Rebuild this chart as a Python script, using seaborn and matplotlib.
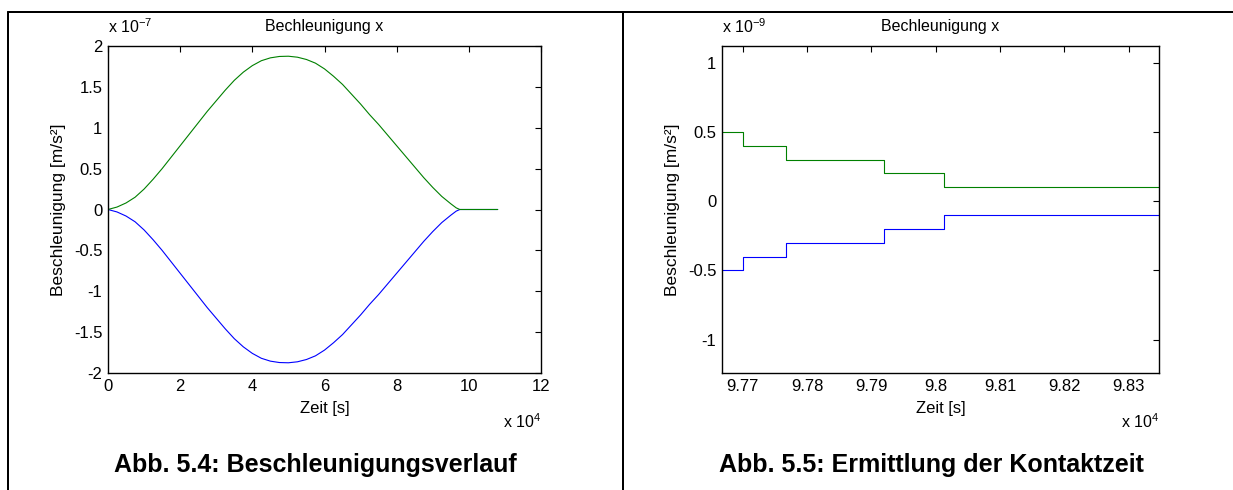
import numpy as np
import pandas as pd
import matplotlib
matplotlib.use("Agg")
import matplotlib.pyplot as plt
from matplotlib.lines import Line2D
from matplotlib.ticker import FuncFormatter
import seaborn as sns

# ---- data -------------------------------------------------------------
# Abb. 5.4: acceleration over time (time in s, acceleration in m/s^2)
zeit_verlauf = [0, 2500, 5000, 7500, 10000, 12500, 15000, 17500, 20000, 22500,
                25000, 27500, 30000, 32500, 35000, 37500, 40000, 42500, 45000,
                47500, 50000, 52500, 55000, 57500, 60000, 62500, 65000, 67500,
                70000, 72500, 75000, 77500, 80000, 82500, 85000, 87500, 90000,
                92500, 95000, 96500, 97500, 108000]
beschl_pos = [0.0, 0.03e-7, 0.08e-7, 0.15e-7, 0.25e-7, 0.37e-7, 0.50e-7, 0.64e-7,
              0.78e-7, 0.92e-7, 1.06e-7, 1.20e-7, 1.33e-7, 1.46e-7, 1.58e-7,
              1.68e-7, 1.76e-7, 1.82e-7, 1.855e-7, 1.872e-7, 1.875e-7, 1.863e-7,
              1.835e-7, 1.79e-7, 1.72e-7, 1.63e-7, 1.53e-7, 1.41e-7, 1.29e-7,
              1.16e-7, 1.04e-7, 0.91e-7, 0.78e-7, 0.65e-7, 0.52e-7, 0.39e-7,
              0.27e-7, 0.16e-7, 0.07e-7, 0.02e-7, 0.0, 0.0]
beschl_neg = [0.0, -0.03e-7, -0.08e-7, -0.15e-7, -0.25e-7, -0.37e-7, -0.50e-7,
              -0.64e-7, -0.78e-7, -0.92e-7, -1.06e-7, -1.20e-7, -1.33e-7,
              -1.46e-7, -1.58e-7, -1.68e-7, -1.76e-7, -1.82e-7, -1.855e-7,
              -1.872e-7, -1.875e-7, -1.863e-7, -1.835e-7, -1.79e-7, -1.72e-7,
              -1.63e-7, -1.53e-7, -1.41e-7, -1.29e-7, -1.16e-7, -1.04e-7,
              -0.91e-7, -0.78e-7, -0.65e-7, -0.52e-7, -0.39e-7, -0.27e-7,
              -0.16e-7, -0.07e-7, -0.02e-7, 0.0, 0.0]

# Abb. 5.5: zoomed step signal near contact
zeit_stufen = [97600, 97700, 97767, 97919, 98013, 98400]
stufen_pos = [0.5e-9, 0.4e-9, 0.3e-9, 0.2e-9, 0.1e-9, 0.1e-9]
stufen_neg = [-0.5e-9, -0.4e-9, -0.3e-9, -0.2e-9, -0.1e-9, -0.1e-9]

ticks_links_x = [0, 2, 4, 6, 8, 10, 12]
ticks_links_y = [-2, -1.5, -1, -0.5, 0, 0.5, 1, 1.5, 2]
ticks_rechts_x = [9.77, 9.78, 9.79, 9.8, 9.81, 9.82, 9.83]
ticks_rechts_y = [-1, -0.5, 0, 0.5, 1]

titel = "Bechleunigung x"
xlabel = "Zeit [s]"
ylabel = "Beschleunigung [m/s²]"
caption_links = "Abb. 5.4: Beschleunigungsverlauf"
caption_rechts = "Abb. 5.5: Ermittlung der Kontaktzeit"

GRUEN = "#008000"
BLAU = "#0000ff"

# ---- style ------------------------------------------------------------
sns.set_style("white")
plt.rcParams["font.family"] = ["Liberation Sans", "DejaVu Sans"]
plt.rcParams["axes.unicode_minus"] = False
plt.rcParams["mathtext.fontset"] = "custom"
plt.rcParams["mathtext.rm"] = "Liberation Sans"
plt.rcParams["mathtext.it"] = "Liberation Sans"
plt.rcParams["text.color"] = "black"
plt.rcParams["axes.labelcolor"] = "black"

W, H = 1233, 490
fig = plt.figure(figsize=(W / 100, H / 100), dpi=100)
fig.patch.set_facecolor("white")


def px_axes(x0, y0, x1, y1):
    return fig.add_axes([x0 / W, 1 - y1 / H, (x1 - x0) / W, (y1 - y0) / H])


def fmt(scale):
    return FuncFormatter(lambda v, p: f"{v / scale:g}")


def style_axes(ax, xscale, yscale, xticks, yticks, xexp, yexp):
    ax.set_xticks([t * xscale for t in xticks])
    ax.set_yticks([t * yscale for t in yticks])
    ax.xaxis.set_major_formatter(fmt(xscale))
    ax.yaxis.set_major_formatter(fmt(yscale))
    ax.tick_params(direction="in", length=4, width=0.8, top=True, right=True,
                   labelsize=12, colors="black", pad=4)
    for s in ax.spines.values():
        s.set_color("black")
        s.set_linewidth(1.0)
    ax.set_title(titel, fontsize=11.5, pad=11, color="black")
    ax.set_xlabel(xlabel, fontsize=12, labelpad=5, color="black")
    ax.set_ylabel(ylabel, fontsize=12.5, labelpad=6, color="black")
    ax.text(0.0, 1.03, r"x 10$^{" + yexp + "}$", transform=ax.transAxes,
            ha="left", va="bottom", fontsize=11.5)
    ax.text(1.0, -0.12, r"x 10$^{" + xexp + "}$", transform=ax.transAxes,
            ha="right", va="top", fontsize=11.5)


# ---- left: full course --------------------------------------------------
df_l = pd.DataFrame({"t": zeit_verlauf, "pos": beschl_pos, "neg": beschl_neg})
ax1 = px_axes(108, 46, 541, 373)
sns.lineplot(data=df_l, x="t", y="neg", color=BLAU, lw=0.8, ax=ax1,
             estimator=None, sort=False)
sns.lineplot(data=df_l, x="t", y="pos", color=GRUEN, lw=0.8, ax=ax1,
             estimator=None, sort=False)
ax1.set_xlim(0, 120000)
ax1.set_ylim(-2e-7, 2e-7)
style_axes(ax1, 1e4, 1e-7, ticks_links_x, ticks_links_y, "4", "-7")

# ---- right: zoom into contact time ---------------------------------------
df_r = pd.DataFrame({"t": zeit_stufen, "pos": stufen_pos, "neg": stufen_neg})
ax2 = px_axes(722, 46, 1159, 373)
sns.lineplot(data=df_r, x="t", y="neg", color=BLAU, lw=0.8, ax=ax2,
             estimator=None, sort=False, drawstyle="steps-post")
sns.lineplot(data=df_r, x="t", y="pos", color=GRUEN, lw=0.8, ax=ax2,
             estimator=None, sort=False, drawstyle="steps-post")
ax2.set_xlim(97668, 98347)
ax2.set_ylim(-1.24e-9, 1.12e-9)
style_axes(ax2, 1e4, 1e-9, ticks_rechts_x, ticks_rechts_y, "4", "-9")

# ---- table frame and captions ----------------------------------------------
lw_frame = 2.0 * 72 / 100
fig.add_artist(Line2D([8 / W, 1.0], [1 - 12 / H, 1 - 12 / H], color="black",
                      lw=lw_frame, transform=fig.transFigure))
fig.add_artist(Line2D([8 / W, 8 / W], [0.0, 1 - 12 / H], color="black",
                      lw=lw_frame, transform=fig.transFigure))
fig.add_artist(Line2D([623 / W, 623 / W], [0.0, 1 - 12 / H], color="black",
                      lw=lw_frame, transform=fig.transFigure))

fig.text(315 / W, 1 - 465 / H, caption_links, ha="center", va="center",
         fontsize=18, fontweight="bold", color="black")
fig.text(931 / W, 1 - 465 / H, caption_rechts, ha="center", va="center",
         fontsize=18, fontweight="bold", color="black")

fig.savefig("out.png", dpi=100, facecolor="white")
